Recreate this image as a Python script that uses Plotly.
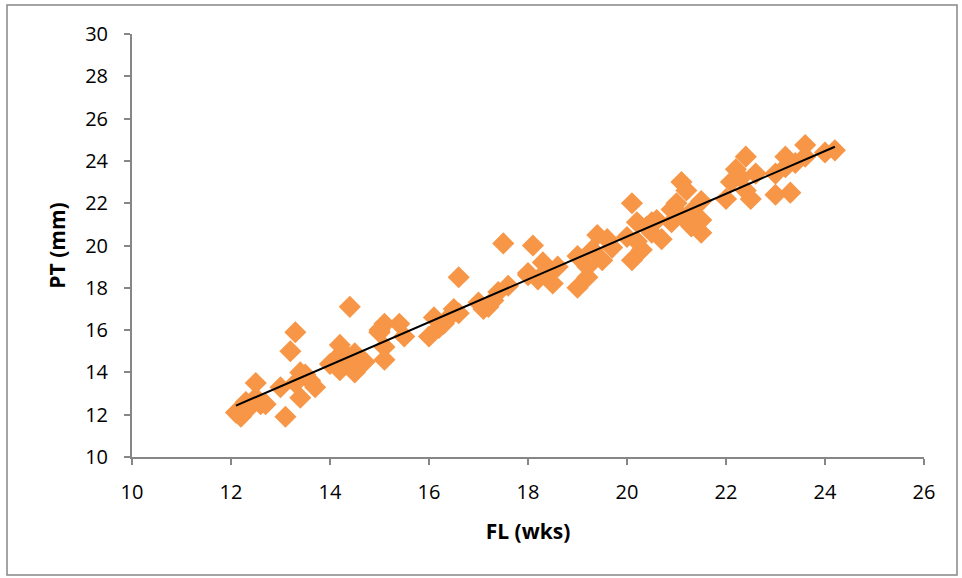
import numpy as np
import plotly.graph_objects as go

fl_wks = [12.1, 12.2, 12.3, 12.3, 12.5, 12.5, 12.6, 12.7, 13.0, 13.1, 13.2, 13.3, 13.4, 13.4, 13.6, 13.7,
          12.2, 12.4, 13.5, 13.3,
          14.0, 14.2, 14.2, 14.3, 14.4, 14.5, 14.5, 14.6, 14.5, 15.0, 15.0,
          14.1, 14.3, 14.7,
          15.1, 15.4, 15.0, 15.5, 15.1, 15.1, 16.1, 16.5, 16.0, 16.3, 16.6, 16.6, 17.1, 17.0, 17.4, 17.6, 17.5,
          16.2, 16.4, 17.2, 17.3,
          18.0, 18.1, 18.0, 18.3, 18.6, 18.2, 18.5, 19.0, 19.0, 19.2, 19.4, 19.6, 19.5, 19.2,
          18.4, 19.3, 19.7,
          20.0, 20.1, 20.2, 20.5, 20.6, 20.1, 20.3, 20.7, 20.5, 20.9, 20.9,
          20.2, 20.4,
          21.0, 21.1, 21.2, 21.5, 21.1, 21.3, 21.5, 21.5, 22.0, 22.4, 22.2, 22.1, 22.4, 22.5, 22.6,
          21.3, 22.3,
          23.0, 23.0, 23.3, 23.2, 23.2, 23.6, 23.6, 24.0, 24.2, 23.4]
pt_mm = [12.1, 11.9, 12.3, 12.6, 13.5, 12.8, 12.5, 12.5, 13.3, 11.9, 15.0, 15.9, 14.0, 12.8, 13.6, 13.3,
         12.3, 12.4, 13.9, 13.5,
         14.4, 15.3, 14.1, 14.9, 17.1, 14.9, 14.0, 14.5, 14.7, 16.0, 15.9,
         14.6, 14.4, 14.5,
         16.3, 16.3, 15.9, 15.7, 15.2, 14.6, 16.6, 17.0, 15.7, 16.3, 16.8, 18.5, 17.0, 17.3, 17.8, 18.1, 20.1,
         16.1, 16.6, 17.1, 17.4,
         18.6, 20.0, 18.7, 19.2, 19.0, 18.4, 18.2, 18.0, 19.5, 18.5, 20.5, 20.3, 19.3, 19.0,
         18.7, 19.8, 19.9,
         20.4, 22.0, 21.1, 21.1, 21.2, 19.3, 19.8, 20.3, 20.6, 21.1, 21.7,
         20.2, 20.9,
         22.0, 23.0, 22.6, 22.1, 21.4, 20.9, 20.6, 21.2, 22.2, 24.2, 23.6, 23.0, 22.6, 22.2, 23.4,
         21.6, 23.2,
         23.4, 22.4, 22.5, 24.2, 23.7, 24.75, 24.2, 24.4, 24.5, 23.9]

x = np.array(fl_wks)
y = np.array(pt_mm)
slope, intercept = np.polyfit(x, y, 1)
trend_x = np.array([x.min(), x.max()])
trend_y = slope * trend_x + intercept

fig = go.Figure()
fig.add_trace(go.Scatter(
    x=fl_wks, y=pt_mm, mode="markers",
    marker=dict(symbol="diamond", size=17, color="#F79646", line=dict(width=0)),
    showlegend=False, hoverinfo="x+y"))
fig.add_trace(go.Scatter(
    x=trend_x, y=trend_y, mode="lines",
    line=dict(color="black", width=2), showlegend=False, hoverinfo="skip"))

font_family = "Open Sans, Liberation Sans, sans-serif"
axis_common = dict(
    showgrid=False, zeroline=False, showline=True, linecolor="#868686", linewidth=2,
    ticks="outside", ticklen=6, tickwidth=2, tickcolor="#868686",
    tickfont=dict(family=font_family, size=20, color="black"),
)

fig.update_layout(
    width=962, height=578,
    margin=dict(l=132, r=38, t=34, b=121),
    paper_bgcolor="white", plot_bgcolor="white",
    font=dict(family=font_family, color="black"),
    xaxis=dict(range=[10, 26], dtick=2, tick0=10, ticklabelstandoff=10,
               title=dict(text="<b>FL (wks)</b>", font=dict(size=21, family=font_family), standoff=20),
               **axis_common),
    yaxis=dict(range=[10, 30], dtick=2, tick0=10, ticklabelstandoff=12,
               title=dict(text="<b>PT (mm)</b>", font=dict(size=21, family=font_family), standoff=14),
               **axis_common),
    shapes=[dict(type="rect", xref="paper", yref="paper",
                 x0=(7 - 132) / 792, x1=(957 - 132) / 792,
                 y0=(457 - 575) / 423, y1=(457 - 5) / 423,
                 line=dict(color="#868686", width=1.5), layer="below")],
)

fig.write_html("out.html", config={"displayModeBar": False},
               post_script="document.body.style.margin='0';")
